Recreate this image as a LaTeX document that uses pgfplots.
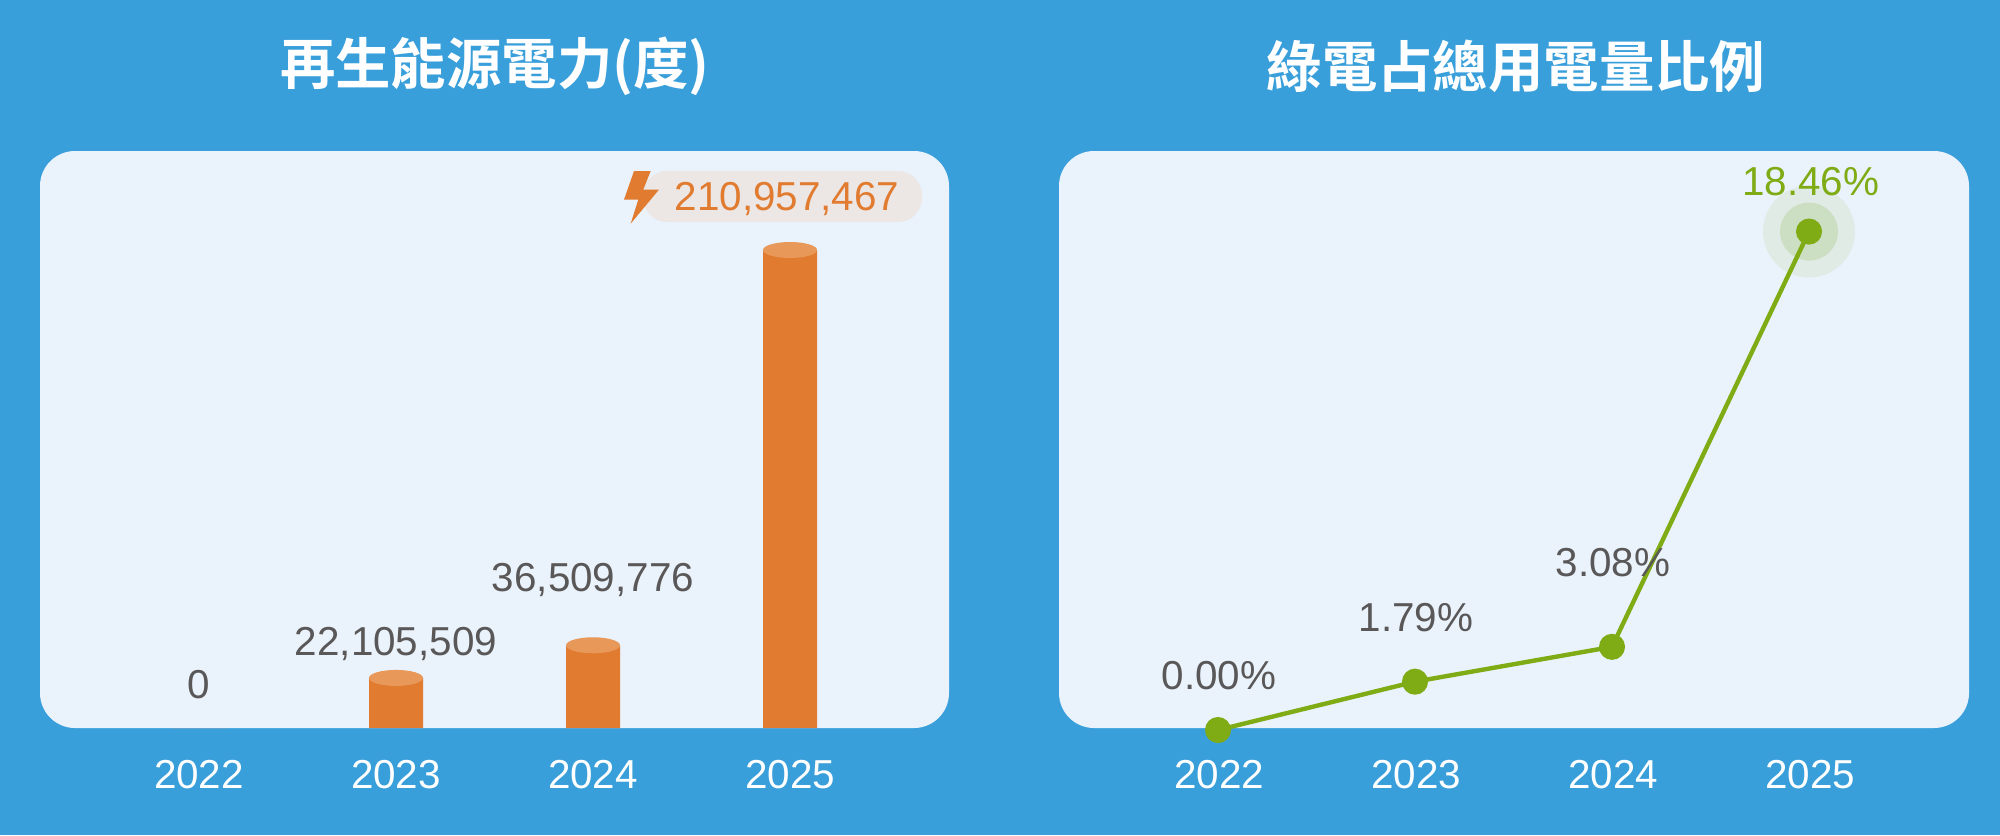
\documentclass[border=0pt]{standalone}
\usepackage{pgfplots}
\pgfplotsset{compat=1.18}
\usepackage{fontspec}
\setmainfont{Liberation Sans}
\newfontfamily\cjk{Noto Sans CJK TC}[BoldFont={Noto Sans CJK TC Bold}]
\definecolor{bgblue}{HTML}{399FDB}
\definecolor{panel}{HTML}{EAF3FC}
\definecolor{greytxt}{HTML}{595757}
\definecolor{barorange}{HTML}{E07B30}
\definecolor{caporange}{HTML}{E89858}
\definecolor{greenline}{HTML}{7FAB14}
\definecolor{haloA}{HTML}{E0EBE6}
\definecolor{haloB}{HTML}{CCDFC2}
\definecolor{bubble}{HTML}{ECE6E4}
\pgfdeclareplotmark{cap}{\pgfpathellipse{\pgfpointorigin}{\pgfqpoint{13.5pt}{0pt}}{\pgfqpoint{0pt}{4pt}}\pgfusepath{fill}}
\newcommand{\lbl}{\fontsize{20.2pt}{24pt}\selectfont}
\pgfplotsset{panelaxis/.style={
  scale only axis, width=454.5pt, height=288.5pt,
  xmin=-0.80711, xmax=3.80711, ymin=0,
  clip=false, axis line style={draw=none},
  xtick={0,1,2,3}, xticklabels={2022,2023,2024,2025},
  ytick=\empty, major tick length=0pt,
  xticklabel style={font=\lbl, text=white, anchor=base, yshift=-30pt},
},
rightaxis/.style={panelaxis, at={(529.5pt,-364pt)}, anchor=south west, width=455pt,
  ymin=0.07407, ymax=21.444, xmin=-0.80711, xmax=3.81218}}
\begin{document}
\begin{tikzpicture}[x=0.5pt,y=-0.5pt]
\fill[bgblue] (0,0) rectangle (2000,835);
\fill[panel,rounded corners=17.5pt] (40,151) rectangle (949,728);
\fill[panel,rounded corners=17.5pt] (1059,151) rectangle (1969,728);
\node[font=\cjk\bfseries\fontsize{27.7pt}{30pt}\selectfont,text=white] at (495,66) {再生能源電力(度)};
\node[font=\cjk\bfseries\fontsize{27.7pt}{30pt}\selectfont,text=white] at (1516,66) {綠電占總用電量比例};
% left panel
\begin{axis}[panelaxis, at={(20pt,-364pt)}, anchor=south west, ymax=254649487,
  ybar, bar width=27pt]
\addplot[draw=none, fill=barorange] coordinates {(0,0) (1,22105509) (2,36509776) (3,210957467)};
\end{axis}
\begin{axis}[panelaxis, at={(20pt,-364pt)}, anchor=south west, ymax=254649487,
  xticklabels={}, xtick=\empty]
\addplot[only marks, mark=cap, color=caporange] coordinates {(1,22105509) (2,36509776) (3,210957467)};
\node[font=\lbl,text=greytxt,anchor=base] at (axis cs:0,0) [yshift=14.7pt] {0};
\node[font=\lbl,text=greytxt,anchor=base] at (axis cs:1,22105509) [yshift=11pt] {22,105,509};
\node[font=\lbl,text=greytxt,anchor=base] at (axis cs:2,36509776) [yshift=27pt] {36,509,776};
\fill[bubble,rounded corners=12pt] (axis cs:2.2538,254649487) ++(0pt,-10pt) rectangle ++(139.5pt,-25.5pt);
\node[font=\lbl,text=barorange,anchor=base] at (axis cs:3,210957467) [xshift=-1.5pt,yshift=20pt] {210,957,467};
\fill[barorange] (axis cs:2.2538,254649487) ++(-4.5pt,-10pt) -- ++(8.35pt,0pt) -- ++(-3.7pt,-9.3pt) -- ++(7.85pt,0pt) -- ++(-14.15pt,-17pt) -- ++(3.8pt,12pt) -- ++(-7.15pt,0pt) -- cycle;
\end{axis}
% right panel: halo first, then line and labels on top
\begin{axis}[rightaxis, xtick=\empty]
\addplot[only marks, mark=*, mark size=22.8pt, color=haloA, mark options={draw=none}] coordinates {(3,18.46)};
\addplot[only marks, mark=*, mark size=14.3pt, color=haloB, mark options={draw=none}] coordinates {(3,18.46)};
\end{axis}
\begin{axis}[rightaxis, xticklabel style={xshift=0.5pt}]
\addplot[greenline, line width=2.2pt, mark=*, mark size=5.4pt, mark options={draw=none,fill=greenline}] coordinates {(0,0) (1,1.79) (2,3.08) (3,18.46)};
\node[font=\lbl,text=greytxt,anchor=base] at (axis cs:0,0) [xshift=0.4pt,yshift=20.5pt] {0.00\%};
\node[font=\lbl,text=greytxt,anchor=base] at (axis cs:1,1.79) [xshift=0.4pt,yshift=25pt] {1.79\%};
\node[font=\lbl,text=greytxt,anchor=base] at (axis cs:2,3.08) [xshift=0.4pt,yshift=35pt] {3.08\%};
\node[font=\lbl,text=greenline,anchor=base] at (axis cs:3,18.46) [xshift=0.8pt,yshift=18pt] {18.46\%};
\end{axis}
\end{tikzpicture}
\end{document}
